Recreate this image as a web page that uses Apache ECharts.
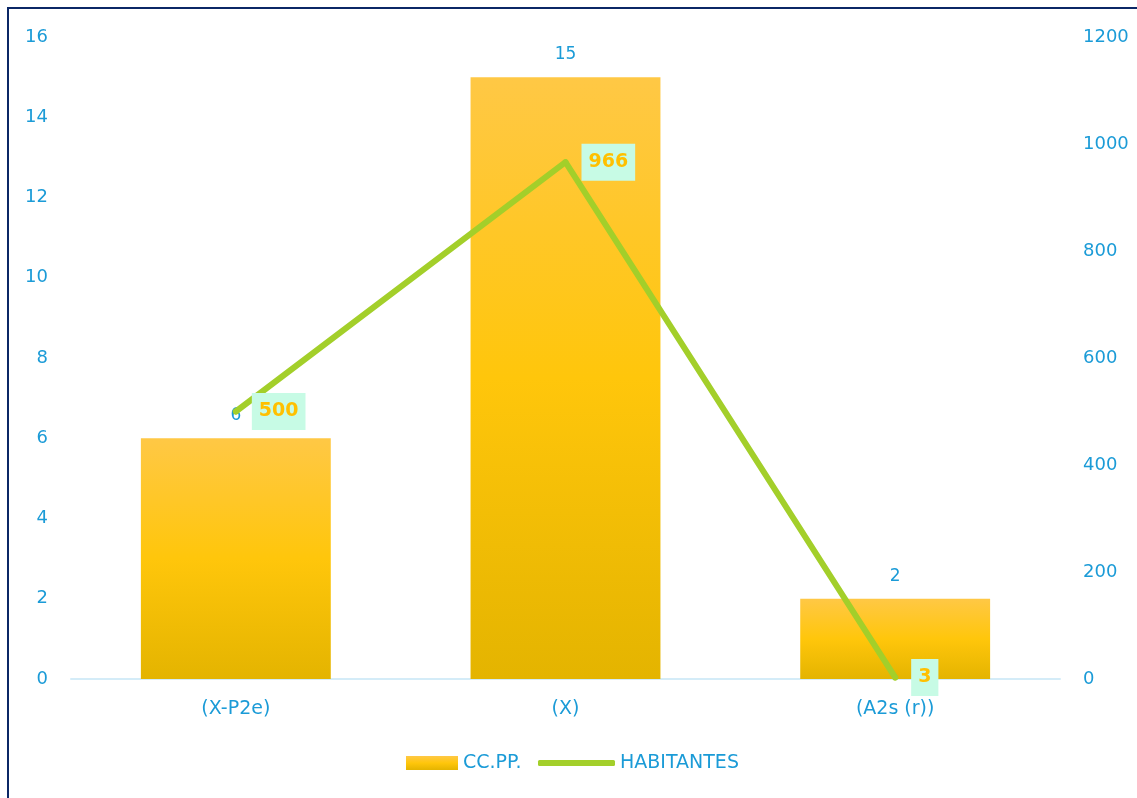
<!DOCTYPE html>
<html>
<head>
<meta charset="utf-8">
<script src="https://cdn.jsdelivr.net/npm/echarts@6/dist/echarts.min.js"></script>
<style>
  html, body { margin: 0; padding: 0; background: #fff; }
  #frame { position: absolute; left: 7px; top: 7px; width: 1140px; height: 800px;
           border-left: 2px solid #0b2766; border-top: 2px solid #0b2766; box-sizing: border-box; }
  #chart { position: absolute; left: 0; top: 0; width: 1137px; height: 798px; }
</style>
</head>
<body>
<div id="frame"></div>
<div id="chart"></div>
<script>
// Categories and series values
const categories = ['(X-P2e)', '(X)', '(A2s (r))'];
const ccpp = [6, 15, 2];
const habitantes = [500, 966, 3];
const leftTicks = [0, 16, 2];      // min, max, interval
const rightTicks = [0, 1200, 200]; // min, max, interval

const blue = '#1b9bd7';
const green = '#a3cf2a';
const font = '"DejaVu Sans", "Open Sans", sans-serif';

const chart = echarts.init(document.getElementById('chart'), null, { renderer: 'canvas' });

const barGradient = new echarts.graphic.LinearGradient(0, 0, 0, 1, [
  { offset: 0, color: '#ffc845' },
  { offset: 0.5, color: '#ffc60b' },
  { offset: 1, color: '#e4b400' }
]);

const legendText = { color: blue, fontSize: 19, fontFamily: font, lineHeight: 24 };

chart.setOption({
  animation: false,
  textStyle: { fontFamily: font },
  grid: { left: 71, right: 77, top: 37, bottom: 119, containLabel: false },
  legend: [
    {
      left: 406, top: 751, padding: 0,
      itemWidth: 52, itemHeight: 14, itemGap: 5,
      textStyle: legendText,
      data: [{ name: 'CC.PP.', icon: 'rect' }]
    },
    {
      left: 538, top: 751, padding: 0,
      itemWidth: 77, itemHeight: 6, itemGap: 3,
      textStyle: legendText,
      itemStyle: { color: green },
      data: [{ name: 'HABITANTES', icon: 'roundRect' }]
    }
  ],
  xAxis: {
    type: 'category',
    data: categories,
    axisLine: { lineStyle: { color: '#d4ecf8', width: 2 } },
    axisTick: { show: false },
    axisLabel: { color: blue, fontSize: 19, margin: 21, fontFamily: font }
  },
  yAxis: [
    {
      type: 'value',
      min: leftTicks[0], max: leftTicks[1], interval: leftTicks[2],
      splitLine: { show: false },
      axisLine: { show: false },
      axisTick: { show: false },
      axisLabel: { color: blue, fontSize: 18, margin: 23, fontFamily: font }
    },
    {
      type: 'value',
      min: rightTicks[0], max: rightTicks[1], interval: rightTicks[2],
      splitLine: { show: false },
      axisLine: { show: false },
      axisTick: { show: false },
      axisLabel: {
        color: blue, fontSize: 18, margin: 23, fontFamily: font,
        formatter: v => String(v)
      }
    }
  ],
  series: [
    {
      name: 'CC.PP.',
      type: 'bar',
      yAxisIndex: 0,
      data: ccpp,
      barWidth: '57.6%',
      itemStyle: { color: barGradient },
      label: {
        show: true, position: 'top', distance: 14,
        color: blue, fontSize: 17, fontFamily: font
      }
    },
    {
      name: 'HABITANTES',
      type: 'line',
      yAxisIndex: 1,
      data: habitantes,
      symbol: 'circle',
      symbolSize: 6,
      showSymbol: true,
      lineStyle: { color: green, width: 6, cap: 'round', join: 'round' },
      itemStyle: { color: green },
      label: {
        show: true, position: 'right', distance: 13,
        color: '#ffc000', fontSize: 19, fontWeight: 'bold', fontFamily: font,
        backgroundColor: '#c7fbe5',
        padding: [9, 7, 9, 7]
      },
      z: 5
    }
  ]
});
</script>
</body>
</html>
